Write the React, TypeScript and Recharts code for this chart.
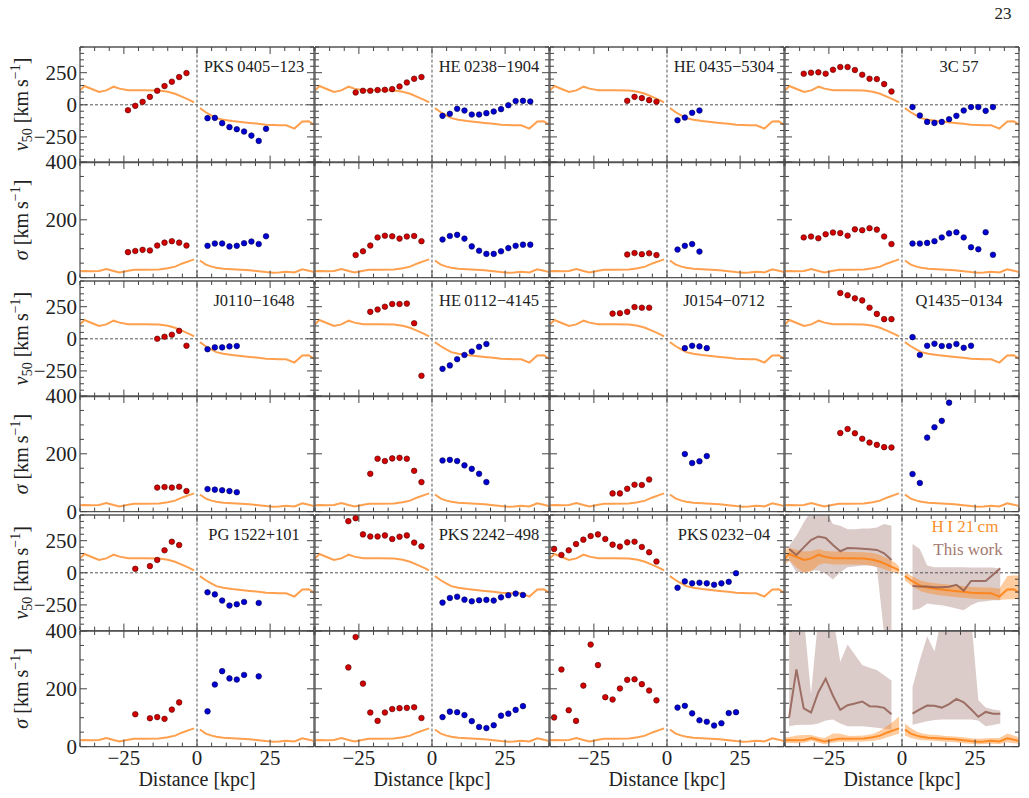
import React from 'react';
import { ComposedChart, Line, Scatter, Area, XAxis, YAxis, ReferenceLine } from 'recharts';

// H I 21 cm reference profile, drawn in every panel
const hiLeftX = [-40, -38.5, -36, -33.5, -31, -28.5, -26.5, -23.5, -21.5, -18, -13, -10, -7.5, -5, -2.5, -1];
const hiLeftV = [112, 146, 123, 100, 112, 141, 126, 113, 113, 113, 111, 102, 86, 62, 37, 18];
const hiLeftS = [22, 23, 22, 23, 30, 23, 18, 24, 27, 27, 28, 32, 38, 49, 58, 63];
const hiRightX = [1, 3, 5, 6.6, 9, 12, 15, 18, 21, 23.6, 26, 28, 30.5, 33.3, 36, 38.2, 40];
const hiRightV = [-26, -58, -85, -104, -117, -127, -134, -141, -148, -156, -158, -159, -159, -185, -130, -128, -154];
const hiRightS = [59, 45, 38, 34, 31, 29, 27, 25, 22, 19, 17, 18, 20, 18, 29, 24, 19];

// H I scatter bands (stacked panel only)
const hiLeftVLo = [60, 95, 40, 0, 10, 60, 75, 65, 65, 65, 62, 55, 40, 18, 0, -10];
const hiLeftVHi = [185, 195, 180, 165, 170, 185, 172, 165, 165, 162, 160, 155, 138, 112, 82, 50];
const hiRightVLo = [-60, -95, -125, -145, -160, -172, -180, -188, -195, -200, -204, -206, -208, -212, -205, -205, -205];
const hiRightVHi = [8, -22, -45, -62, -74, -84, -90, -96, -102, -110, -112, -114, -114, -125, -25, -22, -22];
const hiLeftSLo = [12, 13, 12, 13, 20, 13, 8, 14, 17, 17, 18, 20, 24, 32, 40, 45];
const hiLeftSHi = [32, 33, 38, 40, 40, 33, 30, 45, 45, 37, 38, 44, 55, 72, 90, 105];
const hiRightSLo = [38, 30, 25, 22, 21, 19, 17, 15, 12, 10, 8, 9, 10, 9, 15, 12, 10];
const hiRightSHi = [80, 64, 52, 46, 42, 40, 37, 35, 32, 29, 27, 28, 30, 30, 45, 38, 32];

// PKS 0405-123
const pks0405RedX = [-23.6, -21.1, -18.6, -16.1, -13.6, -11.1, -8.6, -6.1, -3.6];
const pks0405RedV = [-42, -8, 23, 62, 109, 146, 180, 216, 247];
const pks0405RedS = [88, 92, 96, 94, 111, 121, 126, 121, 111];
const pks0405BlueX = [3.6, 6.1, 8.6, 11.1, 13.6, 16.1, 18.6, 21.1, 23.6];
const pks0405BlueV = [-104, -102, -143, -174, -190, -208, -240, -281, -187];
const pks0405BlueS = [110, 118, 118, 108, 110, 119, 125, 116, 143];

// HE 0238-1904
const he0238RedX = [-26.1, -23.6, -21.1, -18.6, -16.1, -13.6, -11.1, -8.6, -6.1, -3.6];
const he0238RedV = [96, 109, 109, 115, 117, 122, 143, 174, 203, 216];
const he0238RedS = [78, 91, 111, 139, 145, 143, 135, 142, 144, 126];
const he0238BlueX = [3.6, 6.1, 8.6, 11.1, 13.6, 16.1, 18.6, 21.1, 23.6, 26.1, 28.6, 31.1, 33.6];
const he0238BlueV = [-86, -70, -31, -44, -76, -76, -65, -52, -34, -3, 29, 31, 26];
const he0238BlueS = [132, 144, 148, 135, 108, 93, 82, 82, 91, 102, 110, 114, 114];

// HE 0435-5304
const he0435RedX = [-13.6, -11.1, -8.6, -6.1, -3.6];
const he0435RedV = [31, 62, 52, 36, 23];
const he0435RedS = [80, 85, 81, 84, 78];
const he0435BlueX = [3.6, 6.1, 8.6, 11.1];
const he0435BlueV = [-120, -99, -62, -44];
const he0435BlueS = [97, 110, 116, 90];

// 3C 57
const c57RedX = [-33.6, -31.1, -28.6, -26.1, -23.6, -21.1, -18.6, -16.1, -13.6, -11.1, -8.6, -6.1, -3.6];
const c57RedV = [242, 250, 253, 242, 273, 294, 294, 271, 234, 203, 200, 161, 104];
const c57RedS = [139, 142, 136, 150, 156, 154, 145, 167, 164, 171, 166, 142, 116];
const c57BlueX = [3.6, 6.1, 8.6, 11.1, 13.6, 16.1, 18.6, 21.1, 23.6, 26.1, 28.6, 31.1];
const c57BlueV = [-18, -83, -133, -141, -133, -112, -86, -44, -18, -18, -47, -18];
const c57BlueS = [118, 118, 120, 126, 139, 153, 157, 139, 105, 98, 157, 79];

// J0110-1648
const j0110RedX = [-13.6, -11.1, -8.6, -6.1, -3.6];
const j0110RedV = [0, 16, 32, 62, -54];
const j0110RedS = [83, 85, 83, 86, 71];
const j0110BlueX = [3.6, 6.1, 8.6, 11.1, 13.6];
const j0110BlueV = [-81, -67, -67, -59, -56];
const j0110BlueS = [78, 76, 74, 71, 67];

// HE 0112-4145
const he0112RedX = [-21.1, -18.6, -16.1, -13.6, -11.1, -8.6, -6.1, -3.6];
const he0112RedV = [210, 228, 250, 271, 271, 274, 121, -288];
const he0112RedS = [131, 183, 175, 184, 186, 183, 141, 102];
const he0112BlueX = [3.6, 6.1, 8.6, 11.1, 13.6, 16.1, 18.6];
const he0112BlueV = [-234, -207, -159, -126, -99, -62, -40];
const he0112BlueS = [177, 179, 175, 160, 148, 131, 102];

// J0154-0712
const j0154RedX = [-18.6, -16.1, -13.6, -11.1, -8.6, -6.1];
const j0154RedV = [196, 199, 210, 247, 242, 242];
const j0154RedS = [63, 63, 79, 93, 92, 111];
const j0154BlueX = [6.1, 8.6, 11.1, 13.6];
const j0154BlueV = [-73, -54, -59, -73];
const j0154BlueS = [199, 168, 174, 192];

// Q1435-0134
const q1435RedX = [-21.1, -18.6, -16.1, -13.6, -11.1, -8.6, -6.1, -3.6];
const q1435RedV = [357, 339, 315, 299, 242, 194, 153, 153];
const q1435RedS = [272, 286, 271, 252, 239, 231, 223, 222];
const q1435BlueX = [3.6, 6.1, 8.6, 11.1, 13.6, 16.1, 18.6, 21.1, 23.6];
const q1435BlueV = [13, -126, -54, -38, -56, -56, -40, -70, -54];
const q1435BlueSX = [3.6, 6.1, 8.6, 11.1, 13.6, 16.1];
const q1435BlueS = [130, 99, 256, 292, 314, 377];

// PG 1522+101
const pg1522RedX = [-21.1, -16.1, -13.6, -11.1, -8.6, -6.1];
const pg1522RedV = [31, 52, 100, 175, 242, 216];
const pg1522RedS = [112, 98, 102, 96, 128, 153];
const pg1522BlueX = [3.6, 6.1, 8.6, 11.1, 13.6, 16.1, 21.1];
const pg1522BlueV = [-152, -168, -216, -255, -245, -227, -235];
const pg1522BlueS = [122, 215, 261, 236, 232, 248, 243];

// PKS 2242-498
const pks2242RedX = [-28.6, -26.1, -23.6, -21.1, -18.6, -16.1, -13.6, -11.1, -8.6, -6.1, -3.6];
const pks2242RedV = [402, 425, 299, 283, 283, 291, 263, 281, 291, 235, 206];
const pks2242RedS = [274, 379, 218, 118, 89, 118, 130, 133, 134, 136, 99];
const pks2242BlueX = [3.6, 6.1, 8.6, 11.1, 13.6, 16.1, 18.6, 21.1, 23.6, 26.1, 28.6, 31.1];
const pks2242BlueV = [-232, -196, -186, -209, -222, -214, -211, -216, -191, -175, -162, -173];
const pks2242BlueS = [102, 121, 119, 109, 88, 68, 64, 74, 107, 114, 127, 140];

// PKS 0232-04
const pks0232RedX = [-38.6, -36.1, -33.6, -31.1, -28.6, -26.1, -23.6, -21.1, -18.6, -16.1, -13.6, -11.1, -8.6, -6.1, -3.6];
const pks0232RedV = [186, 139, 175, 224, 258, 286, 299, 263, 219, 204, 237, 242, 201, 160, 88];
const pks0232RedS = [101, 267, 126, 89, 211, 353, 282, 171, 163, 201, 231, 233, 216, 194, 160];
const pks0232BlueX = [3.6, 6.1, 8.6, 11.1, 13.6, 16.1, 18.6, 21.1, 23.6];
const pks0232BlueV = [-116, -67, -82, -77, -82, -93, -82, -70, -3];
const pks0232BlueS = [135, 141, 115, 91, 86, 73, 81, 116, 119];

// stacked profile ("This work")
const stackLeftX = [-38.6, -36.1, -33.6, -31.1, -28.6, -26.1, -23.6, -21.1, -18.6, -16.1, -13.6, -11.1, -8.6, -6.1, -3.6];
const stackLeftV = [186, 139, 198, 255, 283, 271, 216, 168, 193, 191, 188, 183, 178, 152, 100];
const stackLeftVLo = [95, 5, 5, 18, 18, -8, -52, 5, 44, 49, 57, 57, 44, -480, -480];
const stackLeftVHi = [211, 289, 392, 480, 480, 480, 379, 366, 340, 340, 345, 345, 353, 379, 366];
const stackLeftS = [100, 267, 132, 118, 188, 235, 176, 127, 143, 149, 156, 140, 139, 134, 112];
const stackLeftSLo = [70, 75, 76, 76, 80, 90, 94, 80, 70, 70, 70, 68, 65, 62, 59];
const stackLeftSHi = [450, 450, 450, 182, 450, 450, 450, 294, 353, 318, 282, 273, 265, 247, 229];
const stackRightX = [3.6, 6.1, 8.6, 11.1, 13.6, 16.1, 18.6, 21.1, 23.6, 26.1, 28.6, 31.1, 33.6];
const stackRightV = [-103, -106, -106, -113, -113, -108, -93, -139, -64, -64, -64, -15, 36];
const stackRightVLo = [-291, -278, -240, -247, -252, -265, -278, -291, -252, -227, -222, -214, -214];
const stackRightVHi = [224, 186, 57, 44, 44, 44, 44, 44, 41, 41, 41, 41, 31];
const stackRightS = [114, 129, 142, 141, 135, 147, 165, 153, 129, 103, 120, 114, 114];
const stackRightSLo = [76, 82, 88, 92, 94, 94, 94, 94, 94, 90, 70, 75, 80];
const stackRightSHi = [206, 300, 382, 329, 450, 450, 450, 450, 450, 160, 135, 128, 125];

const galaxies = [
  { name: 'PKS\u20090405\u2212123', redX: pks0405RedX, redV: pks0405RedV, redS: pks0405RedS, blueX: pks0405BlueX, blueV: pks0405BlueV, blueS: pks0405BlueS },
  { name: 'HE\u20090238\u22121904', redX: he0238RedX, redV: he0238RedV, redS: he0238RedS, blueX: he0238BlueX, blueV: he0238BlueV, blueS: he0238BlueS },
  { name: 'HE\u20090435\u22125304', redX: he0435RedX, redV: he0435RedV, redS: he0435RedS, blueX: he0435BlueX, blueV: he0435BlueV, blueS: he0435BlueS },
  { name: '3C\u200957', redX: c57RedX, redV: c57RedV, redS: c57RedS, blueX: c57BlueX, blueV: c57BlueV, blueS: c57BlueS },
  { name: 'J0110\u22121648', redX: j0110RedX, redV: j0110RedV, redS: j0110RedS, blueX: j0110BlueX, blueV: j0110BlueV, blueS: j0110BlueS },
  { name: 'HE\u20090112\u22124145', redX: he0112RedX, redV: he0112RedV, redS: he0112RedS, blueX: he0112BlueX, blueV: he0112BlueV, blueS: he0112BlueS },
  { name: 'J0154\u22120712', redX: j0154RedX, redV: j0154RedV, redS: j0154RedS, blueX: j0154BlueX, blueV: j0154BlueV, blueS: j0154BlueS },
  { name: 'Q1435\u22120134', redX: q1435RedX, redV: q1435RedV, redS: q1435RedS, blueX: q1435BlueX, blueV: q1435BlueV, blueSX: q1435BlueSX, blueS: q1435BlueS },
  { name: 'PG\u20091522+101', redX: pg1522RedX, redV: pg1522RedV, redS: pg1522RedS, blueX: pg1522BlueX, blueV: pg1522BlueV, blueS: pg1522BlueS },
  { name: 'PKS\u20092242\u2212498', redX: pks2242RedX, redV: pks2242RedV, redS: pks2242RedS, blueX: pks2242BlueX, blueV: pks2242BlueV, blueS: pks2242BlueS },
  { name: 'PKS\u20090232\u221204', redX: pks0232RedX, redV: pks0232RedV, redS: pks0232RedS, blueX: pks0232BlueX, blueV: pks0232BlueV, blueS: pks0232BlueS },
];

const xTicks = [-40, -35, -30, -25, -20, -15, -10, -5, 0, 5, 10, 15, 20, 25, 30, 35, 40];
const vTicks = [-450, -400, -350, -300, -250, -200, -150, -100, -50, 0, 50, 100, 150, 200, 250, 300, 350, 400, 450];
const sTicks = [0, 50, 100, 150, 200, 250, 300, 350, 400];

const FONT = '"Liberation Serif", "DejaVu Serif", serif';
const INK = '#222';
const FRAME = '#555';
const RED = '#d40000';
const RED_EDGE = '#4a0000';
const BLUE = '#0000d4';
const BLUE_EDGE = '#00004a';
const HI = '#ffa04f';
const HI_DARK = '#ff7f0e';
const BROWN = '#8c564b';

const colX = [80, 315, 550, 785];
const groupTop = [46.5, 280.7, 515];
const PW = 234;
const PH = 115.6;
const ML = 80, MR = 12, MT = 12, MB = 56;
// axes take 1px each (a zero-size axis is not drawn), margins shrink to match
const AX = 1;
const TICK_FS = 21;

const zip = (xs: number[], ys: number[]) => xs.map((x, i) => ({ x, y: ys[i] }));
const zipRange = (xs: number[], lo: number[], hi: number[]) => xs.map((x, i) => ({ x, r: [lo[i], hi[i]] }));
const minus = (v: number) => String(v).replace('-', '\u2212');

const xTick = (side: 'top' | 'bottom', labels: boolean) => (p: any) => {
  const v = p.payload.value;
  const major = v % 25 === 0;
  const len = major ? 7 : 4;
  const dir = side === 'bottom' ? -1 : 1;
  return (
    <g>
      <line x1={p.x} y1={p.y} x2={p.x} y2={p.y + dir * len} stroke="#444" strokeWidth={1} />
      {labels && major && (
        <text x={p.x} y={p.y + 18} textAnchor="middle" fontFamily={FONT} fontSize={TICK_FS} fill={INK}>{minus(v)}</text>
      )}
    </g>
  );
};

const yTick = (side: 'left' | 'right', labels: boolean, isMajor: (v: number) => boolean) => (p: any) => {
  const v = p.payload.value;
  const major = isMajor(v);
  const len = major ? 7 : 4;
  const dir = side === 'left' ? 1 : -1;
  return (
    <g>
      <line x1={p.x} y1={p.y} x2={p.x + dir * len} y2={p.y} stroke="#444" strokeWidth={1} />
      {labels && major && (
        <text x={p.x - 3} y={p.y} dy="0.34em" textAnchor="end" fontFamily={FONT} fontSize={TICK_FS} fill={INK}>{minus(v)}</text>
      )}
    </g>
  );
};

const dotShape = (fill: string, stroke: string) => (p: any) =>
  <circle cx={p.cx} cy={p.cy} r={2.8} fill={fill} stroke={stroke} strokeWidth={0.6} />;

const line = (key: string, xs: number[], ys: number[], color: string, opacity = 1) => (
  <Line key={key} xAxisId="b" yAxisId="l" data={zip(xs, ys)} dataKey="y" type="linear" stroke={color}
    strokeOpacity={opacity} strokeWidth={2} dot={false} activeDot={false} isAnimationActive={false} />
);

const band = (key: string, xs: number[], lo: number[], hi: number[], color: string, opacity: number) => (
  <Area key={key} xAxisId="b" yAxisId="l" data={zipRange(xs, lo, hi)} dataKey="r" type="linear" stroke="none"
    fill={color} fillOpacity={opacity} dot={false} activeDot={false} isAnimationActive={false} />
);

const dots = (key: string, xs: number[], ys: number[], fill: string, edge: string) => (
  <Scatter key={key} xAxisId="b" yAxisId="l" data={zip(xs, ys)} shape={dotShape(fill, edge)} isAnimationActive={false} />
);

function Panel(props: { left: number; top: number; kind: 'v' | 's'; labelLeft: boolean; labelBottom: boolean; children: React.ReactNode }) {
  const { left, top, kind, labelLeft, labelBottom, children } = props;
  const isV = kind === 'v';
  const isMajor = (v: number) => (isV ? v % 250 === 0 : v % 200 === 0);
  const domain: [number, number] = isV ? [-450, 450] : [0, 400];
  const ticks = isV ? vTicks : sTicks;
  const axisLine = { stroke: FRAME, strokeWidth: 1.3 };
  return (
    <div style={{ position: 'absolute', left: left - ML, top: top - MT }}>
      <ComposedChart width={ML + PW + MR} height={MT + PH + MB}
        margin={{ top: MT - AX, right: MR - AX, bottom: MB - AX, left: ML - AX }}>
        <XAxis xAxisId="b" dataKey="x" type="number" domain={[-40, 40]} allowDataOverflow ticks={xTicks} interval={0}
          height={AX} tickSize={0} tickMargin={0} tickLine={false} axisLine={axisLine} tick={xTick('bottom', labelBottom)} />
        <XAxis xAxisId="t" orientation="top" dataKey="x" type="number" domain={[-40, 40]} allowDataOverflow ticks={xTicks} interval={0}
          height={AX} tickSize={0} tickMargin={0} tickLine={false} axisLine={axisLine} tick={xTick('top', false)} />
        <YAxis yAxisId="l" dataKey="y" type="number" domain={domain} allowDataOverflow ticks={ticks} interval={0}
          width={AX} tickSize={0} tickMargin={0} tickLine={false} axisLine={axisLine} tick={yTick('left', labelLeft, isMajor)} />
        <YAxis yAxisId="r" orientation="right" dataKey="y" type="number" domain={domain} allowDataOverflow ticks={ticks} interval={0}
          width={AX} tickSize={0} tickMargin={0} tickLine={false} axisLine={axisLine} tick={yTick('right', false, isMajor)} />
        <ReferenceLine xAxisId="b" yAxisId="l" x={0} stroke="#555" strokeWidth={1} strokeDasharray="3 2" />
        {isV && <ReferenceLine xAxisId="b" yAxisId="l" y={0} stroke="#555" strokeWidth={1} strokeDasharray="3 2" />}
        {children}
      </ComposedChart>
    </div>
  );
}

const vLabel = (
  <>
    <tspan fontStyle="italic">v</tspan>
    <tspan fontSize={14} dy={4}>50</tspan>
    <tspan dy={-4}>{' [km\u2009s'}</tspan>
    <tspan fontSize={14} dy={-8}>{'\u22121'}</tspan>
    <tspan dy={8}>]</tspan>
  </>
);
const sLabel = (
  <>
    <tspan fontStyle="italic">{'\u03c3'}</tspan>
    <tspan>{' [km\u2009s'}</tspan>
    <tspan fontSize={14} dy={-8}>{'\u22121'}</tspan>
    <tspan dy={8}>]</tspan>
  </>
);

export default function App() {
  const panels: React.ReactNode[] = [];
  for (let g = 0; g < 3; g++) {
    for (let c = 0; c < 4; c++) {
      const idx = g * 4 + c;
      const left = colX[c];
      const topV = groupTop[g];
      const topS = groupTop[g] + PH;
      const labelLeft = c === 0;
      const bottom = g === 2;
      if (idx < galaxies.length) {
        const gal: any = galaxies[idx];
        panels.push(
          <Panel key={`v${idx}`} left={left} top={topV} kind="v" labelLeft={labelLeft} labelBottom={false}>
            {line('hl', hiLeftX, hiLeftV, HI)}
            {line('hr', hiRightX, hiRightV, HI)}
            {dots('r', gal.redX, gal.redV, RED, RED_EDGE)}
            {dots('b', gal.blueX, gal.blueV, BLUE, BLUE_EDGE)}
          </Panel>,
        );
        panels.push(
          <Panel key={`s${idx}`} left={left} top={topS} kind="s" labelLeft={labelLeft} labelBottom={bottom}>
            {line('hl', hiLeftX, hiLeftS, HI)}
            {line('hr', hiRightX, hiRightS, HI)}
            {dots('r', gal.redX, gal.redS, RED, RED_EDGE)}
            {dots('b', gal.blueSX || gal.blueX, gal.blueS, BLUE, BLUE_EDGE)}
          </Panel>,
        );
      } else {
        panels.push(
          <Panel key="vstack" left={left} top={topV} kind="v" labelLeft={false} labelBottom={false}>
            {band('bl', stackLeftX, stackLeftVLo, stackLeftVHi, BROWN, 0.3)}
            {band('br', stackRightX, stackRightVLo, stackRightVHi, BROWN, 0.3)}
            {band('hbl', hiLeftX, hiLeftVLo, hiLeftVHi, HI_DARK, 0.4)}
            {band('hbr', hiRightX, hiRightVLo, hiRightVHi, HI_DARK, 0.4)}
            {line('hl', hiLeftX, hiLeftV, HI_DARK, 0.85)}
            {line('hr', hiRightX, hiRightV, HI_DARK, 0.85)}
            {line('sl', stackLeftX, stackLeftV, BROWN, 0.8)}
            {line('sr', stackRightX, stackRightV, BROWN, 0.8)}
          </Panel>,
        );
        panels.push(
          <Panel key="sstack" left={left} top={topS} kind="s" labelLeft={false} labelBottom={bottom}>
            {band('bl', stackLeftX, stackLeftSLo, stackLeftSHi, BROWN, 0.3)}
            {band('br', stackRightX, stackRightSLo, stackRightSHi, BROWN, 0.3)}
            {band('hbl', hiLeftX, hiLeftSLo, hiLeftSHi, HI_DARK, 0.4)}
            {band('hbr', hiRightX, hiRightSLo, hiRightSHi, HI_DARK, 0.4)}
            {line('hl', hiLeftX, hiLeftS, HI_DARK, 0.85)}
            {line('hr', hiRightX, hiRightS, HI_DARK, 0.85)}
            {line('sl', stackLeftX, stackLeftS, BROWN, 0.8)}
            {line('sr', stackRightX, stackRightS, BROWN, 0.8)}
          </Panel>,
        );
      }
    }
  }

  return (
    <div style={{ position: 'absolute', left: 0, top: 0, width: 1029, height: 798, background: '#fff', overflow: 'hidden' }}>
      {panels}
      <svg width={1029} height={798} style={{ position: 'absolute', left: 0, top: 0, pointerEvents: 'none' }}>
        <text x={1003} y={19} textAnchor="middle" fontFamily={FONT} fontSize={17} fill={INK}>23</text>
        {groupTop.map((t, g) => (
          <g key={g} fontFamily={FONT} fontSize={20} fill={INK}>
            <text transform={`translate(28, ${t + PH / 2}) rotate(-90)`} textAnchor="middle">{vLabel}</text>
            <text transform={`translate(28, ${t + PH * 1.5}) rotate(-90)`} textAnchor="middle">{sLabel}</text>
          </g>
        ))}
        {galaxies.map((gal, i) => (
          <text key={gal.name} x={colX[i % 4] + 174} y={groupTop[Math.floor(i / 4)] + 25} textAnchor="middle"
            fontFamily={FONT} fontSize={16.5} fill={INK}>{gal.name}</text>
        ))}
        <text x={colX[3] + 180} y={532} textAnchor="middle" fontFamily={FONT} fontSize={17} fill="#f7902f">{'H\u2009I 21\u2009cm'}</text>
        <text x={colX[3] + 183} y={555} textAnchor="middle" fontFamily={FONT} fontSize={17} fill="#a47a72">This work</text>
        {colX.map((x) => (
          <text key={x} x={x + PW / 2} y={786} textAnchor="middle" fontFamily={FONT} fontSize={20} fill={INK}>Distance [kpc]</text>
        ))}
      </svg>
    </div>
  );
}
